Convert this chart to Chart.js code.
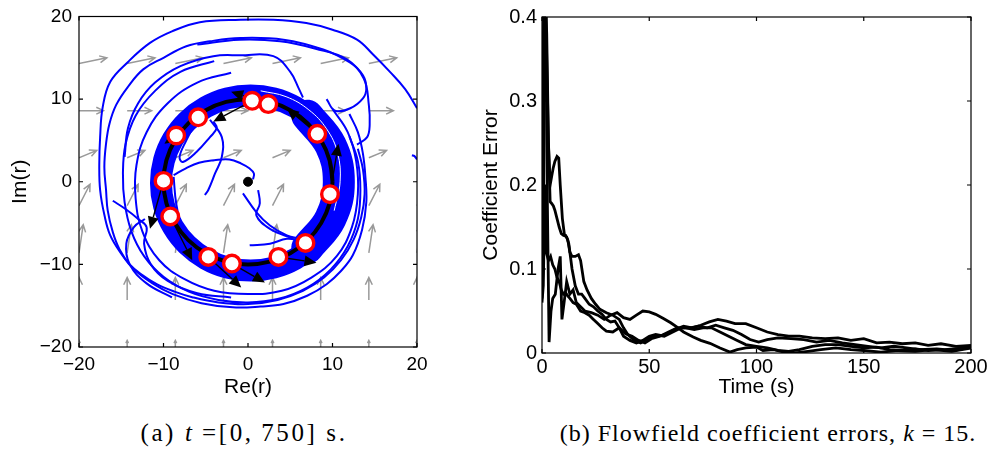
<!DOCTYPE html>
<html><head><meta charset="utf-8">
<script src="https://cdn.jsdelivr.net/npm/chart.js@4.4.0/dist/chart.umd.min.js"></script>
<style>
html,body{margin:0;padding:0;background:#fff;width:995px;height:455px;overflow:hidden;}
#wrapA{position:absolute;left:0;top:0;width:465px;height:400px;}
#wrapB{position:absolute;left:470px;top:0;width:525px;height:400px;}
.cap{position:absolute;top:419px;line-height:28px;font-family:'Liberation Serif','Times New Roman',serif;color:#000;white-space:nowrap;transform:translateX(-50%);}
#capA{left:244px;font-size:25px;letter-spacing:2.6px;}
#capB{left:768px;font-size:24px;letter-spacing:1px;}
</style></head><body>
<div id="wrapA"><canvas id="cA"></canvas></div>
<div id="wrapB"><canvas id="cB"></canvas></div>
<div class="cap" id="capA">(a) <i>t</i>&thinsp;=[0,&thinsp;750] s.</div>
<div class="cap" id="capB">(b) Flowfield coefficient errors, <i>k</i> = 15.</div>
<script>
// ================= DATA: panel (a) =================
const axisTicksA = [-20, -10, 0, 10, 20];
const agentX = [0.5, 2.4, 8.2, 9.7, 6.8, 3.6, -1.9, -4.7, -9.2, -10.0, -8.5, -5.9];
const agentY = [9.8, 9.4, 5.8, -1.5, -7.4, -9.1, -9.9, -9.1, -4.2, 0.1, 5.6, 7.8];
const headTipX = [-4.1, -2.0, 4.6, 10.7, null, 8.1, 2.0, -0.8, -6.6, -11.6, -9.9, null];
const headTipY = [7.3, 10.9, 8.9, 4.6, null, -9.8, -12.2, -12.8, -9.5, -5.7, 4.6, null];
const centerDot = [[0, 0]];
const quiverX = [-20, -14.3, -8.6, -2.9, 2.9, 8.6, 14.3, 20];
const quiverY = [14.3, 8.6, 2.9, -2.9, -8.6, -14.3, -20];
const quiverU = [3.3, 2.9, 2.1, 1.3, 0.5, 0, 0];
const quiverV = [0.7, 0, 0.9, 2.6, 3.4, 2.7, 0.8];

const bandMain = [[10.9,-0.15],[10.54,2.59],[9.48,5.15],[7.8,7.35],[5.6,9.03],[3.04,10.09],[0.3,10.45],[-2.44,10.09],[-5.0,9.03],[-7.2,7.35],[-8.88,5.15],[-9.94,2.59],[-10.3,-0.15],[-9.94,-2.89],[-8.88,-5.45],[-7.2,-7.65],[-5.0,-9.33],[-2.44,-10.39],[0.3,-10.75],[3.04,-10.39],[5.6,-9.33],[7.8,-7.65],[9.48,-5.45],[10.54,-2.89],[10.9,-0.15],[10.54,2.59]];
const bandRight = [[7.02,-8.0],[9.77,-4.42],[10.75,0],[9.77,4.42],[7.02,8.0]];
const blackRing = [[10,0],[9.66,2.59],[8.66,5],[7.07,7.07],[5,8.66],[2.59,9.66],[0,10],[-2.59,9.66],[-5,8.66],[-7.07,7.07],[-8.66,5],[-9.66,2.59],[-10,0],[-9.66,-2.59],[-8.66,-5],[-7.07,-7.07],[-5,-8.66],[-2.59,-9.66],[0,-10],[2.59,-9.66],[5,-8.66],[7.07,-7.07],[8.66,-5],[9.66,-2.59],[10,0],[9.66,2.59]];
const gapLoop = [[10.2,-3.5],[10.9,0],[10.6,3.5],[9.3,6.4],[7.2,8.7],[4.5,10.3],[1.5,11.0]];

const outerA = [[20,8.9],[18.6,11.2],[16.8,13.3],[14.8,15.4],[12.9,17.2],[10,18.4],[6.9,19.2],[3,19.6],[-0.9,19.6],[-5.7,19.3],[-9,18.2],[-11.6,16.8],[-14.2,14.5],[-16.3,12.1],[-17.2,9],[-17.5,5.4],[-17.6,2],[-17.5,-1],[-17,-4],[-16.3,-6.5],[-15,-8.7],[-13.6,-10.5],[-11.3,-12.3],[-8.9,-13.6],[-5.5,-14.7],[-1.8,-15.2],[1.5,-15.1],[4.2,-14.8],[7,-13.8],[9.3,-12.4],[11,-10.8],[12.4,-8.9],[13.5,-5.8],[14,-2.5],[13.9,0.5],[13.6,3.4],[13,6],[12,8.2]];
const outerB = [[9.3,10],[10.3,8.6],[12.1,8.9],[13.6,10.1],[14,11.3],[13.6,12.9],[12.1,14.4],[8.9,16],[4.2,17.2],[-0.9,17.4],[-4.5,17],[-7.3,16.4],[-10,15],[-12.4,13.6],[-14.2,11.5],[-15.6,9.3],[-16.4,7],[-16.8,4.6],[-17,1.8],[-16.8,-1],[-16.6,-3.5],[-16,-6.1],[-15.2,-8.2],[-14,-10],[-12.5,-11.3],[-10.8,-12.4],[-8.7,-13.3],[-6.5,-14],[-3.5,-14.6],[0,-14.8],[3.5,-14.3],[6.5,-13.2],[9,-11.6],[11,-9.5],[12.5,-7],[13.4,-4.3],[13.8,-1.5],[13.6,1.5],[13,4]];
const outerC = [[-14.6,3],[-14.2,6.5],[-13,9.5],[-11,12],[-8,14],[-4.1,15.2],[-0.9,15.3],[3,15.2],[5,13.3],[6,11.3],[6.5,10.2]];
const outerD = [[-6,16.6],[-1,17.2],[3.8,17.0],[8,16.1],[11.7,14.8],[13.7,12.5],[14.3,9.3],[14.4,6.9],[14.1,5.4],[12.9,4.5]];
const outerE = [[-4,14.6],[-8,13.3],[-11,11],[-13.3,8],[-14.5,4.5],[-14.8,1],[-14.6,-2.5],[-13.8,-6],[-12.3,-9],[-10,-11.5],[-7,-13.3],[-3.5,-14.3],[0,-14.6],[3.5,-14.2],[7,-12.8],[9.8,-10.6],[11.8,-7.8],[13,-4.5],[13.3,-1],[13,2.5],[12,5.5]];
const outerF = [[-2,13.2],[-6,12],[-9.5,9.5],[-12,6],[-13.2,2],[-13.3,-2],[-12.5,-6],[-10.5,-9.5],[-7.5,-11.8],[-4,-13.2],[0,-13.6],[4,-13.2],[7.5,-11.6],[10.5,-9],[12.3,-5.5],[13,-1.5],[12.8,2.5],[11.8,6],[10,8.8]];
const outerG = [[-16,-2.3],[-14.5,-3.3],[-13,-4.5],[-12,-5.5],[-12.3,-7.5],[-11.5,-10],[-9.5,-12],[-6,-13.5],[-2,-14]];
const outerH = [[-12.2,-4.5],[-13.5,-5.5],[-14.4,-7.5],[-14,-10],[-12,-12.3],[-9,-14]];
const edgeBit = [[19.4,3.2],[19.7,3.1],[20,2.7]];
const inner1 = [[0.6,0.3],[0.7,1],[0.2,1.6],[-0.8,2.2],[-2.2,2.7],[-4,2.6],[-5.8,2.3],[-7.4,1.6],[-8.8,0.8]];
const inner2 = [[-4.5,7.5],[-3.1,5.4],[-3.1,3],[-3.9,1],[-4.7,-1],[-5.1,-1.6]];
const inner3 = [[-6.1,7.3],[-7.3,5],[-8.1,3],[-7.7,2.4],[-6.1,3.6],[-4.5,5.4],[-3.7,6.5],[-4.1,7.3]];
const inner4 = [[-8.8,0.6],[-8.5,-2.6],[-7.7,-6.1],[-6.5,-8.5]];
const inner5 = [[-0.6,-1.4],[1,-3.7],[2.6,-5.3],[4.6,-6.5],[6.2,-6.9]];
const inner6 = [[1.2,-1],[1.4,-2.6],[1,-4.1],[2.6,-5.7],[5.4,-6.9]];
const inner7 = [[0.2,-7.7],[2.6,-7.5],[4.6,-6.9],[6.2,-7.1]];

// ================= DATA: panel (b) =================
const errT1 = [0,0.8,1.6,2.4,3.3,4.2,5,6.2,7.5,8.5,9.3,10.3,11.5,13,14.5,16,18,20,23,26,29,32,35,38,41,44,47,50,53,56.6,60,62.8,66,70.5,74,78.3,83,87.6,91,95,100,103,108,113,118,124,130,137,144,150,158,166,174,182,191,200];
const errV1 = [0.065,0.45,0.45,0.2,0.013,0.05,0.065,0.07,0.1,0.115,0.04,0.06,0.085,0.07,0.075,0.06,0.055,0.05,0.048,0.045,0.04,0.045,0.048,0.042,0.04,0.045,0.05,0.049,0.046,0.041,0.036,0.031,0.025,0.019,0.015,0.0115,0.006,0.001,0.004,0.006,0.007,0.003,0.004,0.001,0.0,0.002,0.004,0.006,0.004,0.003,0.001,0.003,0.002,0.004,0.002,0.006];
const errT2 = [0,1.2,2.2,3,3.8,4.5,5.3,6,7,8,9,10,11,12,13,14,15.5,17,18,19.5,21,23,25,27,30,33,36,38,40,43,46,50,54,58,62,66,70,74,78,82,86,90,95,100,105,110,115,120,126,132,138,144,150,156,162,168,174,180,186,193,200];
const errV2 = [0.45,0.45,0.38,0.25,0.18,0.178,0.175,0.17,0.16,0.15,0.142,0.14,0.14,0.135,0.12,0.115,0.115,0.117,0.11,0.085,0.075,0.065,0.058,0.052,0.048,0.045,0.04,0.03,0.022,0.015,0.012,0.018,0.02,0.022,0.028,0.032,0.03,0.033,0.037,0.04,0.038,0.035,0.035,0.03,0.025,0.022,0.02,0.02,0.018,0.017,0.018,0.015,0.017,0.012,0.013,0.011,0.012,0.009,0.011,0.008,0.009];
const errT3 = [0,0.5,1,1.5,2.2,3,3.8,4.5,5.2,6,7,7.8,8.5,9.5,10.5,11.5,12.5,14,15.5,17,18.5,20,22,24,26,28,30,32,34,36,38,41,44,47,50,53,57,61,65,69,73,77,81,85,89,93,97,101,105,110,116,122,128,134,140,146,152,158,164,170,176,184,192,200];
const errV3 = [0.07,0.1,0.3,0.45,0.35,0.25,0.2,0.21,0.22,0.228,0.234,0.232,0.2,0.16,0.14,0.138,0.13,0.1,0.08,0.07,0.07,0.065,0.058,0.055,0.05,0.046,0.04,0.037,0.038,0.03,0.02,0.015,0.012,0.015,0.02,0.022,0.02,0.025,0.03,0.03,0.032,0.03,0.033,0.03,0.027,0.022,0.016,0.013,0.016,0.018,0.017,0.016,0.013,0.015,0.012,0.01,0.008,0.006,0.008,0.006,0.004,0.005,0.003,0.007];
const errT4 = [0,0.6,1.4,2,3,4,5,6,7,8,9,10,11,12,13,14.5,16,18,20,22,24,26,28,30,33,36,39,42,45,48,51,55,59,63,67,71,75,79,83,87,91,95,100,105,110,115,120,126,132,138,144,150,156,162,168,174,180,188,200];
const errV4 = [0.06,0.08,0.2,0.12,0.11,0.115,0.105,0.1,0.09,0.085,0.075,0.07,0.072,0.068,0.065,0.06,0.058,0.05,0.048,0.045,0.04,0.035,0.03,0.026,0.025,0.03,0.023,0.02,0.015,0.012,0.017,0.02,0.025,0.03,0.03,0.028,0.03,0.03,0.025,0.02,0.015,0.01,0.008,0.006,0.003,0.002,0.004,0.008,0.01,0.01,0.008,0.006,0.007,0.004,0.003,0.005,0.003,0.004,0.007];

// ================= helpers =================
Chart.defaults.font.family = "'Liberation Sans', Arial, Helvetica, sans-serif";
Chart.defaults.color = '#000';
Chart.defaults.animation = false;
const fmtMinus = v => (v < 0 ? '\u2212' + Math.abs(v) : String(v));
const pts = a => a.map(p => ({x: p[0], y: p[1]}));
const zip = (xs, ys) => xs.map((x, i) => ({x, y: ys[i]}));
function traj(a, color, width, order, extra) {
  return Object.assign({data: pts(a), showLine: true, borderColor: color, backgroundColor: color,
    borderWidth: width, pointRadius: 0, pointHoverRadius: 0, tension: 0.4, fill: false, clip: 0, order}, extra || {});
}

const boxPlugin = {
  id: 'boxTicks',
  afterDatasetsDraw(chart, args, opts) {
    const {ctx, chartArea: a} = chart;
    const xs = chart.scales.x, ys = chart.scales.y;
    const L = opts.len || 4;
    ctx.save();
    ctx.strokeStyle = '#000';
    ctx.lineWidth = 1.2;
    ctx.strokeRect(a.left, a.top, a.right - a.left, a.bottom - a.top);
    ctx.beginPath();
    xs.ticks.forEach(t => {
      const p = xs.getPixelForValue(t.value);
      ctx.moveTo(p, a.bottom); ctx.lineTo(p, a.bottom - L);
      ctx.moveTo(p, a.top); ctx.lineTo(p, a.top + L);
    });
    ys.ticks.forEach(t => {
      const p = ys.getPixelForValue(t.value);
      ctx.moveTo(a.left, p); ctx.lineTo(a.left + L, p);
      ctx.moveTo(a.right, p); ctx.lineTo(a.right - L, p);
    });
    ctx.stroke();
    ctx.restore();
  }
};

const quiverPlugin = {
  id: 'quiver',
  beforeDatasetsDraw(chart) {
    const {ctx, chartArea: a} = chart;
    const xs = chart.scales.x, ys = chart.scales.y;
    ctx.save();
    ctx.beginPath(); ctx.rect(a.left, a.top, a.right - a.left, a.bottom - a.top); ctx.clip();
    ctx.strokeStyle = '#9a9a9a'; ctx.lineWidth = 1.5;
    quiverY.forEach((qy, i) => {
      quiverX.forEach(qx => {
        const x0 = xs.getPixelForValue(qx), y0 = ys.getPixelForValue(qy);
        const x1 = xs.getPixelForValue(qx + quiverU[i]), y1 = ys.getPixelForValue(qy + quiverV[i]);
        const ang = Math.atan2(y1 - y0, x1 - x0);
        const len = Math.hypot(x1 - x0, y1 - y0);
        const h = Math.min(8, len * 0.45);
        ctx.beginPath();
        ctx.moveTo(x0, y0); ctx.lineTo(x1, y1);
        ctx.moveTo(x1 - h * Math.cos(ang - 0.45), y1 - h * Math.sin(ang - 0.45));
        ctx.lineTo(x1, y1);
        ctx.lineTo(x1 - h * Math.cos(ang + 0.45), y1 - h * Math.sin(ang + 0.45));
        ctx.stroke();
      });
    });
    ctx.restore();
  },
  beforeDatasetDraw(chart, args) {
    if (chart.data.datasets[args.index].label !== 'agents') return;
    const {ctx} = chart;
    const xs = chart.scales.x, ys = chart.scales.y;
    ctx.save();
    ctx.strokeStyle = '#000'; ctx.fillStyle = '#000'; ctx.lineWidth = 1.4;
    agentX.forEach((ax, i) => {
      if (headTipX[i] === null) return;
      const x0 = xs.getPixelForValue(ax), y0 = ys.getPixelForValue(agentY[i]);
      const x1 = xs.getPixelForValue(headTipX[i]), y1 = ys.getPixelForValue(headTipY[i]);
      const ang = Math.atan2(y1 - y0, x1 - x0);
      const h = 12, w = 5.5;
      const bx = x1 - h * Math.cos(ang), by = y1 - h * Math.sin(ang);
      ctx.beginPath(); ctx.moveTo(x0, y0); ctx.lineTo(bx, by); ctx.stroke();
      ctx.beginPath();
      ctx.moveTo(x1, y1);
      ctx.lineTo(bx + w * Math.sin(ang), by - w * Math.cos(ang));
      ctx.lineTo(bx - w * Math.sin(ang), by + w * Math.cos(ang));
      ctx.closePath(); ctx.fill();
    });
    ctx.restore();
  }
};

// ================= chart (a) =================
const BLUE = '#0000ff';
const thin = 2;
new Chart(document.getElementById('cA'), {
  type: 'scatter',
  data: {datasets: [
    {label: 'agents', data: zip(agentX, agentY), pointRadius: 8.3, pointHoverRadius: 8.3, pointBorderWidth: 3.4,
     pointBorderColor: '#ff0000', pointBackgroundColor: '#ffffff', borderColor: '#ff0000', backgroundColor: '#ffffff', showLine: false, order: 0, clip: false},
    {label: 'dot', data: pts(centerDot), pointRadius: 4.5, pointBackgroundColor: '#000', pointBorderColor: '#000', showLine: false, order: 1},
    traj(blackRing, '#000', 4, 5),
    traj(gapLoop, '#ffffff', 1, 8),
    traj(bandMain, BLUE, 22, 10),
    traj(bandRight, BLUE, 32, 11, {borderCapStyle: 'round'}),
    traj(outerA, BLUE, thin, 20), traj(outerB, BLUE, thin, 20), traj(outerC, BLUE, thin, 20),
    traj(outerD, BLUE, thin, 20), traj(outerE, BLUE, thin, 20), traj(outerF, BLUE, thin, 20),
    traj(outerG, BLUE, thin, 20), traj(outerH, BLUE, thin, 20), traj(edgeBit, BLUE, thin, 20),
    traj(inner1, BLUE, thin, 20), traj(inner2, BLUE, thin, 20), traj(inner3, BLUE, thin, 20),
    traj(inner4, BLUE, thin, 20), traj(inner5, BLUE, thin, 20), traj(inner6, BLUE, thin, 20),
    traj(inner7, BLUE, thin, 20)
  ]},
  options: {
    responsive: true, maintainAspectRatio: false, animation: false, events: [],
    layout: {padding: {left: 0, top: 10, right: 48, bottom: 0}},
    plugins: {legend: {display: false}, tooltip: {enabled: false}, boxTicks: {len: 4}},
    scales: {
      x: {type: 'linear', min: -20, max: 20,
          afterBuildTicks: s => { s.ticks = axisTicksA.map(v => ({value: v})); },
          afterFit: s => { s.height = 53; },
          grid: {display: false, drawTicks: false}, border: {display: false},
          ticks: {callback: fmtMinus, font: {size: 19, lineHeight: 1}, padding: 8, autoSkip: false, maxRotation: 0},
          title: {display: true, text: 'Re(r)', font: {size: 21, lineHeight: 1.2}, padding: {top: 0, bottom: 0}}},
      y: {type: 'linear', min: -20, max: 20,
          afterBuildTicks: s => { s.ticks = axisTicksA.map(v => ({value: v})); },
          afterFit: s => { s.width = 79; },
          grid: {display: false, drawTicks: false}, border: {display: false},
          ticks: {callback: fmtMinus, font: {size: 19, lineHeight: 1}, padding: 7, autoSkip: false},
          title: {display: true, text: 'Im(r)', font: {size: 21, lineHeight: 1.2}, padding: {top: 8, bottom: 0}}}
    }
  },
  plugins: [quiverPlugin, boxPlugin]
});

// ================= chart (b) =================
const errLine = (t, v) => ({data: zip(t, v), showLine: true, borderColor: '#000', backgroundColor: '#000',
  borderWidth: 2.8, pointRadius: 0, pointHoverRadius: 0, tension: 0, fill: false, clip: 0});
new Chart(document.getElementById('cB'), {
  type: 'scatter',
  data: {datasets: [errLine(errT1, errV1), errLine(errT2, errV2), errLine(errT3, errV3), errLine(errT4, errV4)]},
  options: {
    responsive: true, maintainAspectRatio: false, animation: false, events: [],
    layout: {padding: {left: 0, top: 17, right: 24, bottom: 0}},
    plugins: {legend: {display: false}, tooltip: {enabled: false}, boxTicks: {len: 4}},
    scales: {
      x: {type: 'linear', min: 0, max: 200,
          ticks: {stepSize: 50, font: {size: 20, lineHeight: 1}, padding: 4, autoSkip: false, maxRotation: 0},
          afterFit: s => { s.height = 47; },
          grid: {display: false, drawTicks: false}, border: {display: false},
          title: {display: true, text: 'Time (s)', font: {size: 21, lineHeight: 1.2}, padding: {top: 0, bottom: 0}}},
      y: {type: 'linear', min: 0, max: 0.4,
          ticks: {stepSize: 0.1, font: {size: 20, lineHeight: 1}, padding: 5, autoSkip: false},
          afterFit: s => { s.width = 72; },
          grid: {display: false, drawTicks: false}, border: {display: false},
          title: {display: true, text: 'Coefficient Error', font: {size: 21, lineHeight: 1.2}, padding: {top: 9, bottom: 0}}}
    }
  },
  plugins: [boxPlugin]
});
</script>
</body></html>
